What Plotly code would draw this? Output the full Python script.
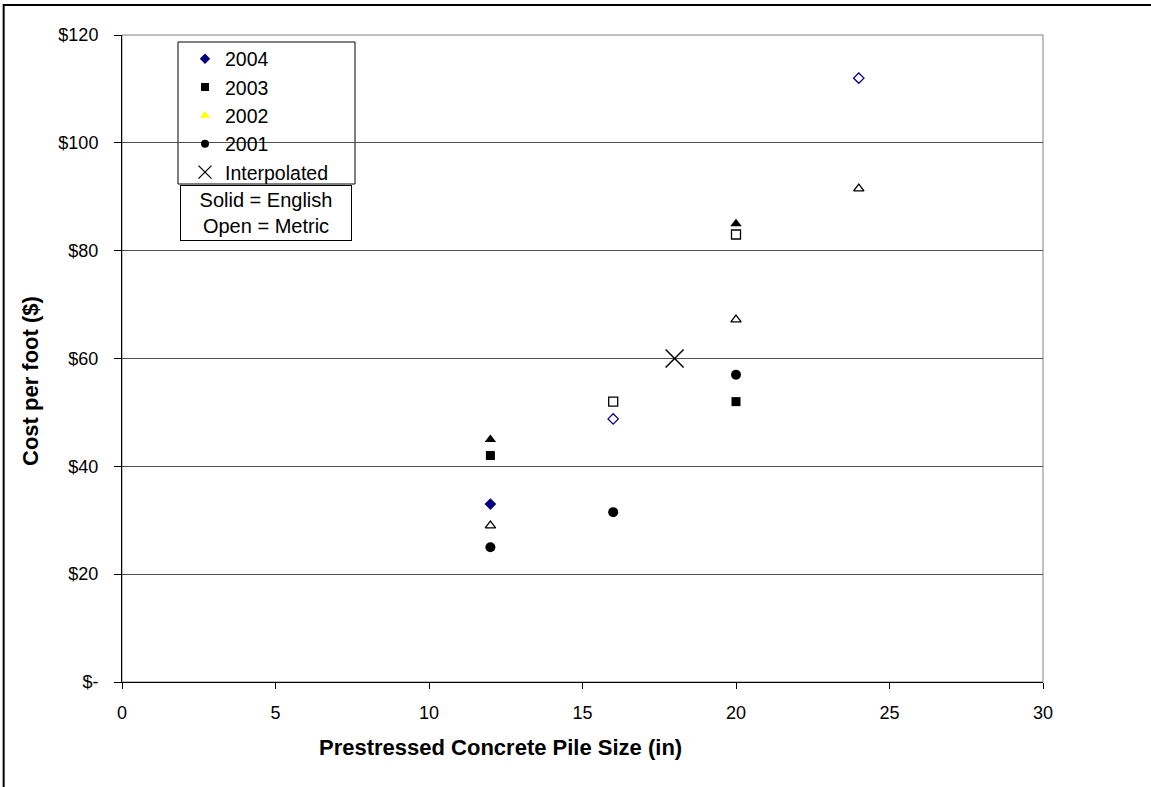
import plotly.graph_objects as go

# Data
x_2004_eng = [12]
y_2004_eng = [33]
x_2004_met = [16, 24]
y_2004_met = [48.8, 112]

x_2003_eng = [12, 20]
y_2003_eng = [42, 52]
x_2003_met = [16, 20]
y_2003_met = [52, 83]

x_2002_eng = [12, 20]
y_2002_eng = [45, 85]
x_2002_met = [12, 20, 24]
y_2002_met = [29, 67.2, 91.5]

x_2001_eng = [12, 16, 20]
y_2001_eng = [25, 31.5, 57]

x_interp = [18]
y_interp = [60]

y_tickvals = [0, 20, 40, 60, 80, 100, 120]
y_ticktext = ["$-", "$20", "$40", "$60", "$80", "$100", "$120"]
x_tickvals = [0, 5, 10, 15, 20, 25, 30]

NAVY = "#000080"
FONT = "Liberation Sans, Arial, sans-serif"

fig = go.Figure()

def add(x, y, symbol, color, size, lw=1.3, lcolor=None):
    fig.add_trace(go.Scatter(
        x=x, y=y, mode="markers", showlegend=False, hoverinfo="x+y",
        marker=dict(symbol=symbol, color=color, size=size,
                    line=dict(width=lw, color=lcolor or color))))

add(x_2004_eng, y_2004_eng, "diamond", NAVY, 9, 0)
add(x_2004_met, y_2004_met, "diamond-open", NAVY, 8)
add(x_2003_eng, y_2003_eng, "square", "black", 9, 0)
add(x_2003_met, y_2003_met, "square-open", "black", 9)
add(x_2002_eng, y_2002_eng, "triangle-up", "black", 10, 0)
add(x_2002_met, y_2002_met, "triangle-up-open", "black", 9)
add(x_2001_eng, y_2001_eng, "circle", "black", 10, 0)
add(x_interp, y_interp, "x-thin-open", "black", 18, 1.5)

# Legend entries
legend_items = [
    ("2004", "diamond", NAVY, 8),
    ("2003", "square", "black", 8),
    ("2002", "triangle-up", "#FFFF00", 9),
    ("2001", "circle", "black", 8),
    ("Interpolated", "x-thin-open", "black", 13),
]
for i, (name, sym, col, sz) in enumerate(legend_items):
    fig.add_trace(go.Scatter(
        x=[None], y=[None], mode="markers", name=name, legendgroup=f"g{i}",
        marker=dict(symbol=sym, color=col, size=sz,
                    line=dict(width=1.3 if "open" in sym else 0, color=col))))

fig.update_layout(
    width=1151, height=787,
    margin=dict(l=122, r=108, t=35, b=105),
    paper_bgcolor="white", plot_bgcolor="white",
    font=dict(family=FONT, size=18, color="black"),
    showlegend=True,
    legend=dict(
        x=0.0684, y=0.993, xanchor="left", yanchor="top",
        bgcolor="rgba(0,0,0,0)", borderwidth=0,
        font=dict(family=FONT, size=19.5, color="black"),
        tracegroupgap=0, itemwidth=30,
    ),
    xaxis=dict(
        range=[0, 30], tickvals=x_tickvals, showgrid=False, zeroline=False,
        showline=True, linecolor="black", linewidth=1,
        ticks="outside", ticklen=6, tickcolor="black",
        tickfont=dict(size=18), ticklabelstandoff=8,
        fixedrange=True,
    ),
    yaxis=dict(
        range=[0, 120], tickvals=y_tickvals, ticktext=y_ticktext,
        showgrid=True, gridcolor="#505050", gridwidth=1, zeroline=False,
        showline=True, linecolor="black", linewidth=1,
        ticks="outside", ticklen=7, tickcolor="black",
        tickfont=dict(size=18), ticklabelstandoff=12,
        fixedrange=True,
    ),
    shapes=[
        # plot area frame (top/right)
        dict(type="rect", xref="paper", yref="paper", x0=0, x1=1, y0=0, y1=1,
             line=dict(color="#808080", width=1), layer="below"),
        # legend box
        dict(type="rect", xref="paper", yref="paper",
             x0=0.0608, x1=0.253, y0=0.7697, y1=0.9892,
             line=dict(color="black", width=1), fillcolor="white", layer="below"),
        # outer chart frame
        dict(type="rect", xref="paper", yref="paper",
             x0=-0.1285, x1=1.2, y0=-0.3, y1=1.0465,
             line=dict(color="black", width=2)),
    ],
    annotations=[
        dict(text="Solid = English<br>Open = Metric", xref="paper", yref="paper",
             x=0.1564, y=0.7249, xanchor="center", yanchor="middle",
             showarrow=False, font=dict(family=FONT, size=20, color="black"),
             bordercolor="black", borderwidth=1, borderpad=3,
             bgcolor="white", width=164, align="center"),
        dict(text="<b>Prestressed Concrete Pile Size (in)</b>", xref="paper",
             yref="paper", x=0.4115, y=-0.1005, xanchor="center", yanchor="middle",
             showarrow=False, font=dict(family=FONT, size=22, color="black")),
        dict(text="<b>Cost per foot ($)</b>", xref="paper", yref="paper",
             x=-0.0999, y=0.4652, xanchor="center", yanchor="middle",
             textangle=-90, showarrow=False,
             font=dict(family=FONT, size=22, color="black")),
    ],
)

fig.write_html("out.html")
